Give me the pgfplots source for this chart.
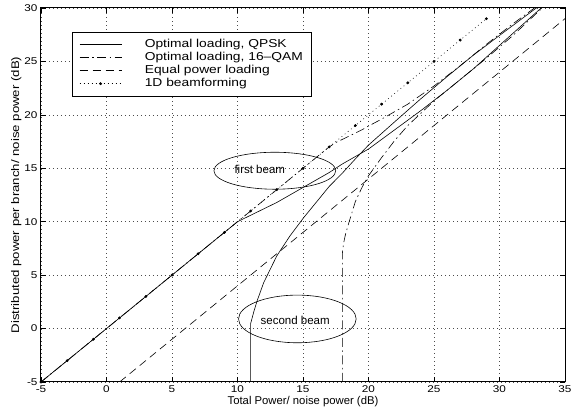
\documentclass[border=0pt]{standalone}
\usepackage{fontspec}
\setmainfont{Liberation Sans}
\newfontfamily\wide[FakeStretch=1.2]{Liberation Sans}
\newcommand\lgfont{\wide\fontsize{11.5}{11}\selectfont}
\usepackage{pgfplots}
\pgfplotsset{compat=1.18}
\usetikzlibrary{calc}

% first beam / second beam, optimal loading QPSK
\pgfplotstableread{
x y
-5 -5
10 10
11 10.6
12 11.2
13 11.8
14 12.5
15 13.2
16 13.9
17 14.6
18 15.4
19 16.1
20 16.8
22 18.6
24 20.4
26 22.3
28 24.3
30 26.5
32 28.7
34 30.9
35 31.9
}\qpskA
\pgfplotstableread{
x y
11 -5
11 0.45
11.25 1.6
11.5 2.6
12 4.3
13 6.8
14 8.66
15 10.3
16 11.8
17 13.3
18 14.54
19 15.88
20 17.17
22 19.35
24 21.51
26 23.58
28 25.58
30 27.43
32 29.26
34 31.08
35 32.08
}\qpskB
% optimal loading 16-QAM
\pgfplotstableread{
x y
-5 -5
17 17
17.5 17.4
18 17.7
18.5 18.0
19 18.3
19.5 18.6
20 18.95
21 19.6
22 20.3
23 21.0
25 22.7
27 24.6
29 26.6
31 28.5
33 30.3
35 32.2
}\qamA
\pgfplotstableread{
x y
18 -5
18 7.0
18.1 8.0
18.25 8.85
18.5 9.9
19 11.9
19.5 13.2
20 14.3
21 16.0
22 17.6
23 19.0
25 21.3
27 23.3
29 25.3
31 27.4
33 29.7
35 31.8
}\qamB

\begin{document}
\begin{tikzpicture}
\begin{axis}[
  scale only axis, width=524pt, height=374pt,
  xmin=-5, xmax=35, ymin=-5, ymax=30,
  xtick={-5,0,...,35}, ytick={-5,0,...,30},
  grid=major,
  major grid style={line width=0.5pt, black!70, dash pattern=on 0.7pt off 3.3pt},
  tick align=inside, major tick length=5pt,
  axis line style={line width=1pt},
  every tick/.style={black, line width=0.5pt},
  /pgf/number format/assume math mode=true,
  ticklabel style={font=\wide\fontsize{9.8}{10}\selectfont},
  xlabel={Total Power/ noise power (dB)},
  ylabel={Distributed power per branch/ noise power (dB)},
  xlabel style={font=\fontsize{11.3}{12}\selectfont, yshift=3pt},
  ylabel style={font=\wide\fontsize{11}{12}\selectfont, yshift=-4pt},
  legend style={at={(0.059,0.936)}, anchor=north west, draw=black,
    line width=0.6pt, fill=white, inner xsep=7pt, inner ysep=6pt,
    row sep=0pt,
    nodes={inner sep=1pt, text height=8.5pt, text depth=2.5pt},
    cells={anchor=west},
    /tikz/every odd column/.append style={column sep=22pt}},
  legend image code/.code={\draw[mark repeat=2,mark phase=2,#1]
    plot coordinates {(0pt,0pt) (21pt,0pt) (42pt,0pt)};},
]
\addplot[black, line width=0.6pt] table {\qpskA};
\addlegendentry{\lgfont Optimal loading, QPSK}
\addplot[black, line width=0.6pt, dash pattern=on 9pt off 3.5pt on 1.5pt off 3.5pt] table {\qamA};
\addlegendentry{\lgfont Optimal loading, 16–QAM}
\addplot[black, line width=0.6pt, dash pattern=on 8pt off 5pt] coordinates {(1,-5) (35,29)};
\addlegendentry{\lgfont Equal power loading}
\addplot[black, line width=0.6pt, dash pattern=on 0.8pt off 3.2pt,
  mark=*, mark size=1.1pt, mark options={solid}] coordinates {
  (-5,-5) (-3,-3) (-1,-1) (1,1) (3,3) (5,5) (7,7) (9,9) (11,11) (13,13)
  (15,15) (17,17) (19,19) (21,21) (23,23) (25,25) (27,27) (29,29)};
\addlegendentry{\lgfont 1D beamforming}
\addplot[black, line width=0.6pt, forget plot] table {\qpskB};
\addplot[black, line width=0.6pt, forget plot, dash pattern=on 9pt off 3.5pt on 1.5pt off 3.5pt] table {\qamB};
\draw[line width=0.6pt] (axis cs:12.85,14.77) ellipse [x radius=4.65, y radius=1.73];
\draw[line width=0.6pt] (axis cs:14.57,0.9) ellipse [x radius=4.49, y radius=2.23];
\node[font=\fontsize{11.5}{12}\selectfont] at (axis cs:11.7,14.9) {first beam};
\node[font=\fontsize{11.5}{12}\selectfont] at (axis cs:14.4,0.75) {second beam};
\end{axis}
\pgfresetboundingbox
\path ($(current axis.south west)+(-41pt,-33pt)$) rectangle ($(current axis.north east)+(6pt,8pt)$);
\end{tikzpicture}
\end{document}
